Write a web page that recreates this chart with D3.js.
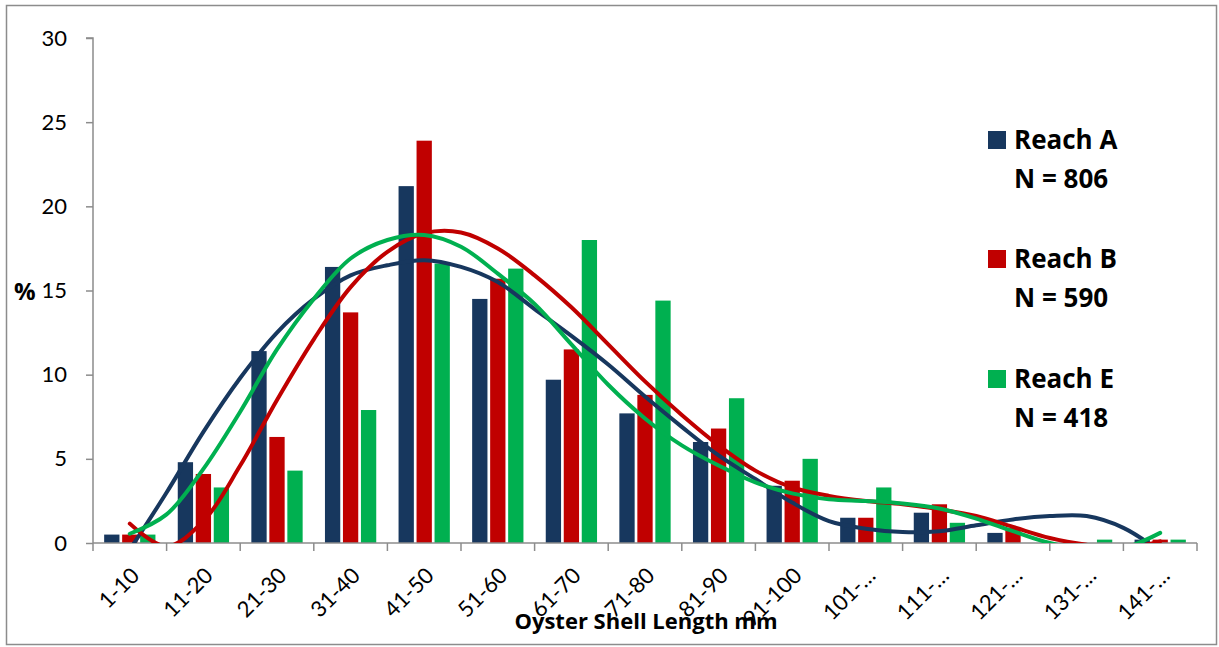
<!DOCTYPE html>
<html>
<head>
<meta charset="utf-8">
<script src="https://d3js.org/d3.v7.min.js"></script>
<style>
  html, body { margin: 0; padding: 0; background: #ffffff; }
  svg { display: block; }
</style>
</head>
<body>
<svg id="chart" width="1219" height="647"></svg>
<script>
// ---------------- DATA ----------------
const categories = ["1-10","11-20","21-30","31-40","41-50","51-60","61-70","71-80","81-90","91-100","101-…","111-…","121-…","131-…","141-…"];
const seriesNames = ["Reach A","Reach B","Reach E"];
const seriesCounts = ["N = 806","N = 590","N = 418"];
const reachA = [0.5, 4.8, 11.4, 16.4, 21.2, 14.5, 9.7, 7.7, 6.0, 3.4, 1.5, 1.8, 0.6, 0, 0.2];
const reachB = [0.5, 4.1, 6.3, 13.7, 23.9, 15.7, 11.5, 8.8, 6.8, 3.7, 1.5, 2.3, 0.9, 0, 0.2];
const reachE = [0.5, 3.3, 4.3, 7.9, 16.6, 16.3, 18.0, 14.4, 8.6, 5.0, 3.3, 1.2, 0, 0.2, 0.2];
// trend lines, sampled every half category (category index 0 .. 14)
const trendPos = [0,0.5,1,1.5,2,2.5,3,3.5,4,4.5,5,5.5,6,6.5,7,7.5,8,8.5,9,9.5,10,10.5,11,11.5,12,12.5,13,13.5,14];
const trendA = [-0.4,3.0,6.6,9.8,12.5,14.5,15.9,16.5,16.8,16.4,15.5,13.9,12.3,10.6,8.7,6.9,5.2,3.8,2.4,1.3,0.85,0.65,0.7,1.05,1.4,1.6,1.6,0.9,-0.5];
const trendB = [1.15,-0.2,1.3,4.6,8.5,12.1,15.2,17.3,18.4,18.45,17.5,15.9,14.0,11.8,9.6,7.6,5.8,4.3,3.3,2.8,2.5,2.3,2.0,1.6,0.95,0.3,-0.1,-0.3,0.1];
const trendE = [0.55,1.7,4.4,7.8,11.5,14.5,16.9,18.0,18.3,17.6,16.0,14.2,11.8,9.4,7.4,5.8,4.6,3.6,2.95,2.6,2.5,2.35,2.05,1.45,0.7,0.0,-0.4,-0.3,0.6];
const yTicks = [0,5,10,15,20,25,30];
const colors = ["#17375E","#C00000","#00B050"];

// ---------------- LAYOUT ----------------
const svg = d3.select("#chart");
const plot = {left: 93, right: 1197, top: 38, bottom: 543};

const x = d3.scaleBand().domain(categories).range([plot.left, plot.right]).paddingInner(0).paddingOuter(0);
const xSub = d3.scaleBand().domain(seriesNames).range([0, x.bandwidth()]).paddingInner(0.15).paddingOuter(0.62);
const y = d3.scaleLinear().domain([0, 30]).range([plot.bottom, plot.top]);
const xTrend = d3.scaleLinear().domain([0, categories.length - 1])
  .range([x(categories[0]) + x.bandwidth()/2, x(categories[categories.length-1]) + x.bandwidth()/2]);

// outer border
svg.append("rect").attr("x", 6.5).attr("y", 5.5).attr("width", 1210).attr("height", 639)
  .attr("fill", "#fff").attr("stroke", "#8c8c8c").attr("stroke-width", 1.5);

// ---------------- BARS ----------------
const seriesData = [reachA, reachB, reachE];
seriesData.forEach((vals, si) => {
  svg.append("g").selectAll("rect").data(vals).join("rect")
    .attr("x", (d, i) => x(categories[i]) + xSub(seriesNames[si]))
    .attr("width", xSub.bandwidth())
    .attr("y", d => y(d))
    .attr("height", d => y(0) - y(d))
    .attr("fill", colors[si]);
});

// ---------------- AXES ----------------
const axisColor = "#8c8c8c";
const yAxis = svg.append("g").attr("transform", `translate(${plot.left},0)`)
  .call(d3.axisLeft(y).tickValues(yTicks).tickSize(7).tickPadding(19));
yAxis.select(".domain").attr("stroke", axisColor).attr("stroke-width", 1.5)
  .attr("d", `M-7,${plot.top}H0V${plot.bottom}`);
yAxis.selectAll(".tick line").attr("stroke", axisColor).attr("stroke-width", 1.5);
yAxis.selectAll(".tick text").attr("font-family", "Lato, sans-serif").attr("font-size", 22)
  .attr("fill", "#000");

const xAxis = svg.append("g").attr("transform", `translate(0,${plot.bottom})`)
  .call(d3.axisBottom(x).tickSize(0).tickFormat(""));
xAxis.select(".domain").attr("stroke", axisColor).attr("stroke-width", 1.5)
  .attr("d", `M${plot.left},0H${plot.right}`);
xAxis.selectAll(".tick").remove();
// boundary ticks
const bounds = categories.map(c => x(c)).concat([plot.right]);
xAxis.selectAll("line.bt").data(bounds).join("line").attr("class", "bt")
  .attr("x1", d => d).attr("x2", d => d).attr("y1", 0).attr("y2", 8)
  .attr("stroke", axisColor).attr("stroke-width", 1.5);
// rotated labels
xAxis.selectAll("text.lbl").data(categories).join("text").attr("class", "lbl")
  .attr("transform", d => `translate(${x(d) + x.bandwidth()/2 + 11},${34}) rotate(-45)`)
  .attr("text-anchor", "end")
  .attr("font-family", "Lato, sans-serif").attr("font-size", 22).attr("fill", "#000")
  .text(d => d);

// ---------------- TREND LINES ----------------
svg.append("clipPath").attr("id", "clip").append("rect")
  .attr("x", plot.left).attr("y", 0).attr("width", plot.right - plot.left + 5).attr("height", plot.bottom);
const line = d3.line().x(d => xTrend(d[0])).y(d => y(d[1])).curve(d3.curveCatmullRom.alpha(0.5));
const trends = [trendA, trendB, trendE];
const tg = svg.append("g").attr("clip-path", "url(#clip)");
trends.forEach((t, si) => {
  tg.append("path").datum(trendPos.map((p, i) => [p, t[i]]))
    .attr("d", line).attr("fill", "none").attr("stroke", colors[si])
    .attr("stroke-width", 4).attr("stroke-linecap", "round");
});

// ---------------- TITLES ----------------
svg.append("text").attr("x", 646).attr("y", 629).attr("text-anchor", "middle")
  .attr("font-family", "'Open Sans', sans-serif").attr("font-weight", 700).attr("font-size", 22)
  .attr("fill", "#000").text("Oyster Shell Length mm");
svg.append("text").attr("x", 14).attr("y", 300)
  .attr("font-family", "'Open Sans', sans-serif").attr("font-weight", 700).attr("font-size", 24)
  .attr("fill", "#000").text("%");

// ---------------- LEGEND ----------------
const legend = svg.append("g");
const legendBase = [149, 268, 388];
seriesNames.forEach((name, i) => {
  legend.append("rect").attr("x", 988).attr("y", legendBase[i] - 18).attr("width", 18).attr("height", 18)
    .attr("fill", colors[i]);
  legend.append("text").attr("x", 1014).attr("y", legendBase[i])
    .attr("font-family", "'Open Sans', sans-serif").attr("font-weight", 700).attr("font-size", 26)
    .attr("fill", "#000").text(name);
  legend.append("text").attr("x", 1014).attr("y", legendBase[i] + 39)
    .attr("font-family", "'Open Sans', sans-serif").attr("font-weight", 700).attr("font-size", 26)
    .attr("fill", "#000").text(seriesCounts[i]);
});
</script>
</body>
</html>
